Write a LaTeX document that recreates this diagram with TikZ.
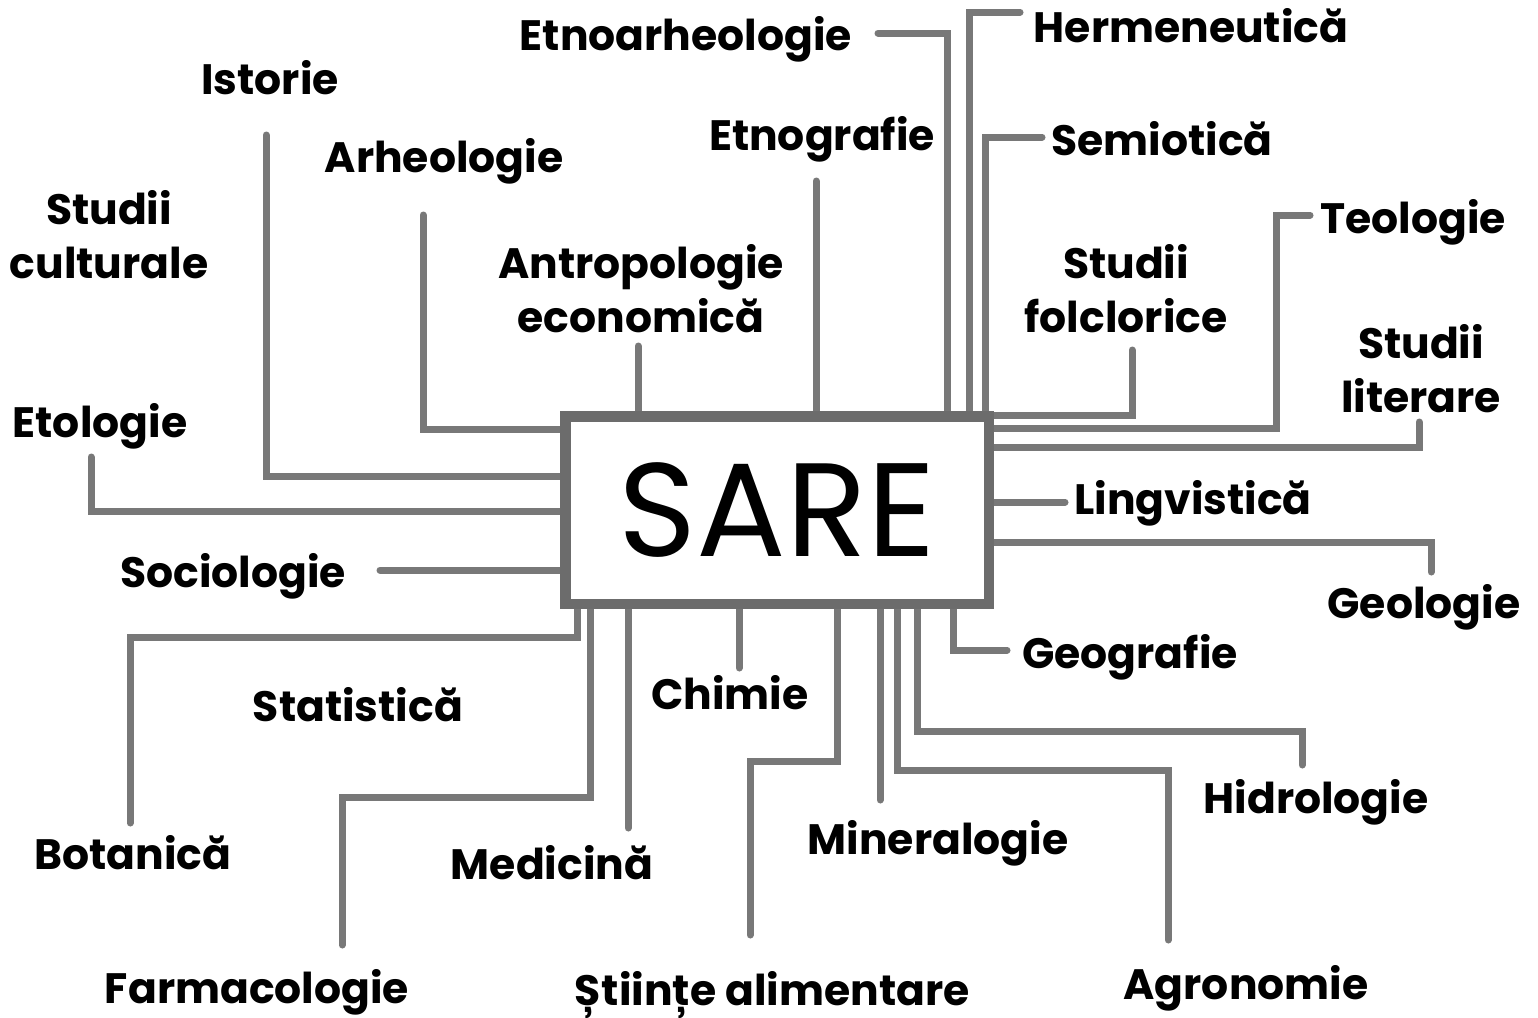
\documentclass[tikz,border=0pt]{standalone}
\usepackage{fontspec}
\setmainfont{Poppins}
\definecolor{linegray}{RGB}{120,120,120}
\definecolor{boxgray}{RGB}{108,108,108}
\begin{document}
\begin{tikzpicture}[x=1pt,y=-1pt,
 lab/.style={font=\fontsize{42.5}{54}\selectfont\bfseries, inner sep=0pt, anchor=base, align=center},
 conn/.style={draw=linegray, line width=7pt, line cap=round, line join=miter}]
\useasboundingbox (0,0) rectangle (1538,1017);
\node[draw=boxgray, line width=7pt, minimum width=420pt, minimum height=184pt, inner sep=0pt, font=\fontsize{133}{133}\selectfont] (sare) at (777,510) {SARE};
% labels
\node[lab] (etnoarh) at (686,50) {Etnoarheologie};
\node[lab] (herm) at (1191,42) {Hermeneutică};
\node[lab] (semio) at (1162,155) {Semiotică};
\node[lab] (folc) at (1126,332) {Studii\\folclorice};
\node[lab] (etnogr) at (822,150) {Etnografie};
\node[lab] (istorie) at (270,94) {Istorie};
\node[lab] (arheo) at (444,172) {Arheologie};
\node[lab] (cult) at (109,278) {Studii\\culturale};
\node[lab] (antro) at (641,332) {Antropologie\\economică};
\node[lab] (teol) at (1413,233) {Teologie};
\node[lab] (liter) at (1421,412) {Studii\\literare};
\node[lab] (etol) at (100,437) {Etologie};
\node[lab] (ling) at (1193,514) {Lingvistică};
\node[lab] (socio) at (233,587) {Sociologie};
\node[lab] (geol) at (1424,618) {Geologie};
\node[lab] (geogr) at (1130,668) {Geografie};
\node[lab] (chim) at (730,709) {Chimie};
\node[lab] (stat) at (358,721) {Statistică};
\node[lab] (hidro) at (1316,813) {Hidrologie};
\node[lab] (miner) at (938,854) {Mineralogie};
\node[lab] (medic) at (552,879) {Medicină};
\node[lab] (botan) at (133,869) {Botanică};
\node[lab] (farma) at (257,1003) {Farmacologie};
\node[lab] (stiinte) at (772,1005) {Științe alimentare};
\node[lab] (agro) at (1246,999) {Agronomie};
% connectors top
\draw[conn] (638,346) -- (638,346 |- sare.north);
\draw[conn] (816,181) -- (816,181 |- sare.north);
\draw[conn] (878,33) -- (947,33) -- (947,33 |- sare.north);
\draw[conn] (1020,12) -- (969,12) -- (969,12 |- sare.north);
\draw[conn] (1042,137) -- (985,137) -- (985,137 |- sare.north);
\draw[conn] (1132,350) -- (1132,415) -- (sare.east |- 0,415);
\draw[conn] (1310,215) -- (1276,215) -- (1276,428) -- (sare.east |- 0,428);
\draw[conn] (1419,422) -- (1419,447) -- (sare.east |- 0,447);
\draw[conn] (1065,502) -- (sare.east |- 0,502);
\draw[conn] (sare.east |- 0,542) -- (1431,542) -- (1431,572);
% bottom
\draw[conn] (953,0 |- sare.south) -- (953,650) -- (1007,650);
\draw[conn] (917,0 |- sare.south) -- (917,731) -- (1302,731) -- (1302,765);
\draw[conn] (897,0 |- sare.south) -- (897,770) -- (1168,770) -- (1168,940);
\draw[conn] (880,0 |- sare.south) -- (880,800);
\draw[conn] (837,0 |- sare.south) -- (837,761) -- (750,761) -- (750,935);
\draw[conn] (739,0 |- sare.south) -- (739,668);
\draw[conn] (628,0 |- sare.south) -- (628,828);
\draw[conn] (590,0 |- sare.south) -- (590,797) -- (342,797) -- (342,945);
\draw[conn] (577,0 |- sare.south) -- (577,637) -- (130,637) -- (130,823);
% left
\draw[conn] (380,570) -- (sare.west |- 0,570);
\draw[conn] (91,457) -- (91,511) -- (sare.west |- 0,511);
\draw[conn] (266,135) -- (266,476) -- (sare.west |- 0,476);
\draw[conn] (423,215) -- (423,429) -- (sare.west |- 0,429);
% redraw box border on top
\draw[boxgray, line width=7pt] (sare.north west) rectangle (sare.south east);
\end{tikzpicture}
\end{document}
